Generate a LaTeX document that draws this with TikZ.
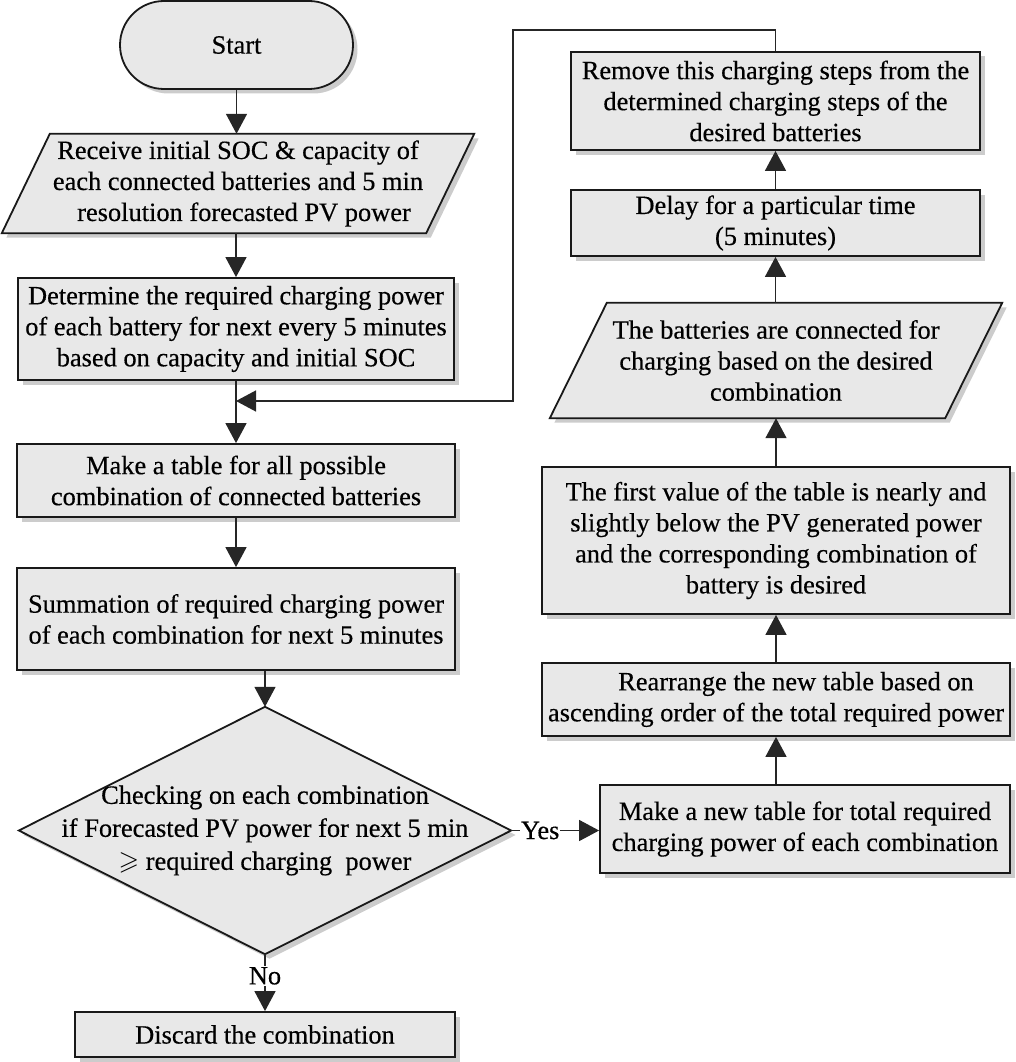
\documentclass[tikz,border=0pt]{standalone}
\usepackage{amssymb}
\usepackage{fontspec}
\setmainfont[FakeBold=0.4]{Liberation Serif}
\usetikzlibrary{arrows.meta,shadows,backgrounds}
\begin{document}
\begin{tikzpicture}[x=1pt,y=-1pt,
  txt/.style={font=\fontsize{26.4}{31}\selectfont, align=center, text=black},
  boxshadow/.style={drop shadow={shadow xshift=4.5pt,shadow yshift=-4.5pt,fill=black!40,opacity=0.5}},
  procbox/.style={txt, draw=black!90, line width=1.8pt, fill=black!9, boxshadow, rectangle, inner sep=0pt},
  shapeonly/.style={txt, rectangle, inner sep=0pt},
  outline/.style={draw=black!90, line width=1.8pt, fill=black!9, boxshadow},
  conn/.style={line width=1.4pt, draw=black!85},
  arr/.style={conn, -{Triangle[width=21pt,length=20pt]}},
  lbl/.style={txt, fill=white, inner sep=1pt}
]
\useasboundingbox (0,0) rectangle (1016,1062);

% left column
\node[procbox, rounded corners=44pt, minimum width=233pt, minimum height=88pt] (start) at (236.5,45) {Start};
\node[shapeonly, minimum width=424pt, minimum height=99pt] (inp) at (238,183.5)
  {Receive initial SOC \& capacity of\\each connected batteries and 5 min\\\hspace*{12pt}resolution forecasted PV power};
\node[procbox, minimum width=436pt, minimum height=102pt] (det) at (236,329)
  {Determine the required charging power\\of each battery for next every 5 minutes\\based on capacity and initial SOC};
\node[procbox, minimum width=438pt, minimum height=73pt] (tab) at (236,480.5)
  {Make a table for all possible\\combination of connected batteries};
\node[procbox, minimum width=438pt, minimum height=102pt] (sum) at (236,619)
  {Summation of required charging power\\of each combination for next 5 minutes};
\node[shapeonly, font=\fontsize{26.4}{33}\selectfont, minimum width=492pt, minimum height=247pt] (dia) at (265,830.5)
  {Checking on each combination\\if Forecasted PV power for next 5 min\\$\geqslant$ required charging\ \ power};
\node[procbox, minimum width=380pt, minimum height=45pt] (disc) at (265,1034.5) {Discard the combination};

% right column
\node[procbox, minimum width=410pt, minimum height=88pt] (mk) at (805,829)
  {Make a new table for total required\\charging power of each combination};
\node[procbox, minimum width=468pt, minimum height=73pt] (rea) at (776,699.5)
  {\hspace*{40pt}Rearrange the new table based on\\ascending order of the total required power};
\node[procbox, minimum width=468pt, minimum height=147pt] (fst) at (776,540.5)
  {The first value of the table is nearly and\\slightly below the PV generated power\\and the corresponding combination of\\battery is desired};
\node[shapeonly, minimum width=395pt, minimum height=115pt] (out) at (776,360.5)
  {The batteries are connected for\\charging based on the desired\\combination};
\node[procbox, minimum width=409pt, minimum height=66pt] (dly) at (775.5,223)
  {Delay for a particular time\\(5 minutes)};
\node[procbox, minimum width=409pt, minimum height=98pt] (rem) at (775.5,101)
  {Remove this charging steps from the\\determined charging steps of the\\desired batteries};

\begin{pgfonlayer}{background}
  \path[outline] ([xshift=24pt]inp.north west) -- ([xshift=24pt]inp.north east)
     -- ([xshift=-24pt]inp.south east) -- ([xshift=-24pt]inp.south west) -- cycle;
  \path[outline] ([xshift=28.5pt]out.north west) -- ([xshift=28.5pt]out.north east)
     -- ([xshift=-28.5pt]out.south east) -- ([xshift=-28.5pt]out.south west) -- cycle;
  \path[outline] (dia.north) -- (dia.east) -- (dia.south) -- (dia.west) -- cycle;
\end{pgfonlayer}

\coordinate (fbtop) at (513,30);
\coordinate (fbj) at (236,401);

% connectors
\draw[arr] (start.south) -- (start.south |- inp.north);
\draw[arr] (det.north |- inp.south) -- (det.north);
\draw[arr] (det.south) -- (tab.north);
\draw[arr] (tab.south) -- (sum.north);
\draw[arr] (dia.north |- sum.south) -- (dia.north);
\draw[arr] (dia.south) -- node[lbl,pos=0.38]{No} (disc.north);
\draw[arr] (dia.east) -- node[lbl,pos=0.33]{Yes} (dia.east -| mk.west);
\draw[arr] (rea.south |- mk.north) -- (rea.south);
\draw[arr] (rea.north) -- (fst.south);
\draw[arr] (fst.north) -- (fst.north |- out.south);
\draw[arr] (dly.south |- out.north) -- (dly.south);
\draw[arr] (dly.north) -- (rem.south);
\draw[arr] (rem.north) |- (fbtop) |- (fbj);
\end{tikzpicture}
\end{document}
